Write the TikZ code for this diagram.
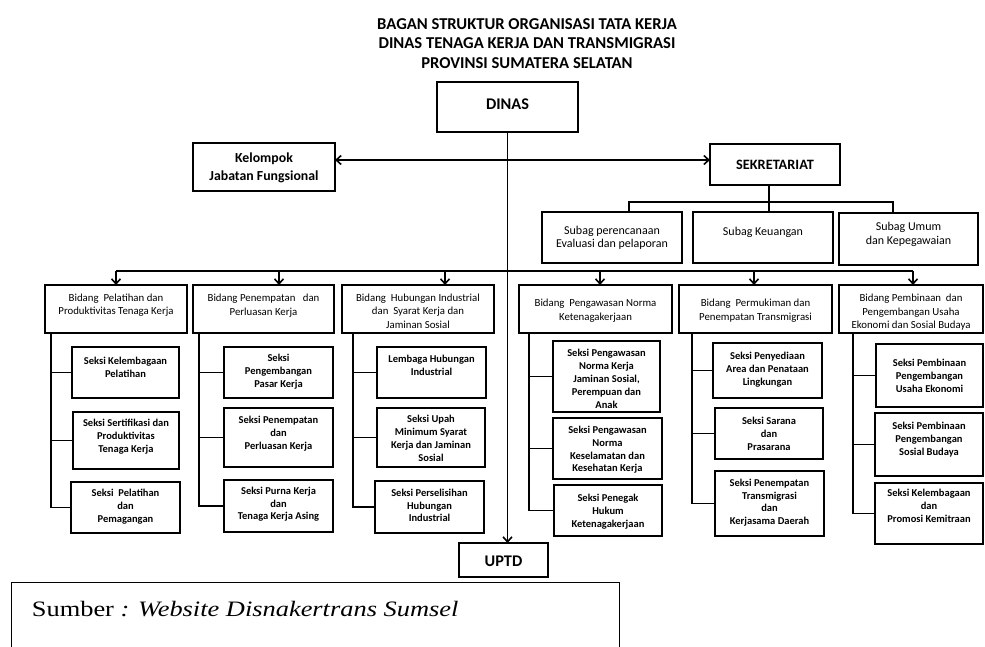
\documentclass[tikz,border=0pt]{standalone}
\usepackage{fontspec}
\usepackage{graphicx}
\setmainfont{Carlito}
\newfontfamily\tnr{Liberation Serif}
\usetikzlibrary{arrows.meta,calc}
\tikzset{
  bx/.style={draw, line width=2.2pt, inner sep=0pt, outer sep=0pt},
  ln/.style={line width=1.6pt},
  arr/.style={line width=1.6pt, -{Straight Barb[length=5pt,width=9pt]}},
  cb/.style={}, cbtxt/.style={font=\fontsize{10.5}{12.8}\selectfont\bfseries, align=center, inner sep=0pt},
  bd/.style={}, bdtxt/.style={font=\fontsize{10.8}{13.6}\selectfont, align=center, inner sep=0pt},
  sb/.style={}, sbtxt/.style={font=\fontsize{12}{13.3}\selectfont, align=center, inner sep=0pt},
  kl/.style={}, kltxt/.style={font=\fontsize{13.8}{18}\selectfont\bfseries, align=center, inner sep=0pt},
  hd/.style={}, hdtxt/.style={font=\fontsize{16.3}{18}\selectfont\bfseries, align=center, inner sep=0pt},
  sk/.style={}, sktxt/.style={font=\fontsize{14.3}{17}\selectfont\bfseries, align=center, inner sep=0pt},
}
% name, x1, y1, x2, y2, style, first-line offset, text
\newcommand\obox[8]{%
  \node[bx,#6,anchor=north west,minimum width={(#4-#2)*1pt},minimum height={(#5-#3)*1pt}] (#1) at (#2,#3) {};
  \node[#6txt,anchor=north] (#1t) at ({(#2+#4)/2},{#3+#7-4}) {#8};
}
% bidang, dx, c1, c2, c3
\newcommand\spine[5]{%
  \coordinate (#1s) at ($(#1.south west)+(#2,0)$);
  \draw[ln] (#1s) |- (#5.west);
  \draw[ln] (#1s |- #3.west) -- (#3.west);
  \draw[ln] (#1s |- #4.west) -- (#4.west);
}
\begin{document}
\begin{tikzpicture}[x=1pt,y=-1pt]
\useasboundingbox (0,0) rectangle (985,647);

\node[font=\fontsize{16.6}{19.7}\selectfont\bfseries, align=center, anchor=north, inner sep=0pt] (title) at (527,18)
  {BAGAN STRUKTUR ORGANISASI TATA KERJA\\DINAS TENAGA KERJA DAN TRANSMIGRASI\\PROVINSI SUMATERA SELATAN};

\obox{dinas}{437}{82}{578}{132}{hd}{21}{DINAS}
\obox{kel}{193}{143}{335}{191}{kl}{13.6}{Kelompok\\Jabatan Fungsional}
\obox{sek}{710}{144}{840}{185}{sk}{20.4}{SEKRETARIAT}
\obox{sub1}{542}{212}{682}{263}{sb}{17.6}{Subag perencanaan\\Evaluasi dan pelaporan}
\obox{sub2}{693}{212}{833}{263}{sb}{19.3}{Subag Keuangan}
\obox{sub3}{839}{213}{978}{265}{sb}{13.3}{Subag Umum\\dan Kepegawaian}

\obox{b1}{45}{285}{187}{333}{bd}{12.7}{Bidang \ Pelatihan dan\\Produktivitas Tenaga Kerja}
\obox{b2}{193}{285}{334}{333}{bd}{13}{Bidang Penempatan \ \ dan\\Perluasan Kerja}
\obox{b3}{342}{285}{494}{333}{bd}{12.7}{Bidang \ Hubungan Industrial\\dan \ Syarat Kerja dan\\Jaminan Sosial}
\obox{b4}{519}{285}{672}{333}{bd}{18}{Bidang \ Pengawasan Norma\\Ketenagakerjaan}
\obox{b5}{679}{285}{832}{333}{bd}{18}{Bidang \ Permukiman dan\\Penempatan Transmigrasi}
\obox{b6}{839}{285}{983}{333}{bd}{13}{Bidang Pembinaan \ dan\\Pengembangan Usaha\\Ekonomi dan Sosial Budaya}

\obox{b1c1}{72}{347}{179}{398}{cb}{13.7}{Seksi Kelembagaan\\Pelatihan}
\obox{b1c2}{73}{412}{179}{469}{cb}{11.3}{Seksi Sertifikasi dan\\Produktivitas\\Tenaga Kerja}
\obox{b1c3}{71}{482}{180}{533}{cb}{11.3}{Seksi \ Pelatihan\\dan\\Pemagangan}
\obox{b2c1}{224}{347}{333}{398}{cb}{11.3}{Seksi\\Pengembangan\\Pasar Kerja}
\obox{b2c2}{224}{408}{333}{467}{cb}{12}{Seksi Penempatan\\dan\\Perluasan Kerja}
\obox{b2c3}{224}{480}{333}{532}{cb}{10.7}{Seksi Purna Kerja\\dan\\Tenaga Kerja Asing}
\obox{b3c1}{377}{347}{486}{398}{cb}{12.3}{Lembaga Hubungan\\Industrial}
\obox{b3c2}{377}{408}{485}{467}{cb}{11.3}{Seksi Upah\\Minimum Syarat\\Kerja dan Jaminan\\Sosial}
\obox{b3c3}{375}{481}{484}{533}{cb}{11.7}{Seksi Perselisihan\\Hubungan\\Industrial}
\obox{b4c1}{553}{341}{660}{412}{cb}{12.3}{Seksi Pengawasan\\Norma Kerja\\Jaminan Sosial,\\Perempuan dan\\Anak}
\obox{b4c2}{553}{418}{662}{479}{cb}{12}{Seksi Pengawasan\\Norma\\Keselamatan dan\\Kesehatan Kerja}
\obox{b4c3}{554}{485}{662}{536}{cb}{13.3}{Seksi Penegak\\Hukum\\Ketenagakerjaan}
\obox{b5c1}{713}{343}{822}{398}{cb}{13}{Seksi Penyediaan\\Area dan Penataan\\Lingkungan}
\obox{b5c2}{715}{408}{823}{459}{cb}{13}{Seksi Sarana\\dan\\Prasarana}
\obox{b5c3}{715}{471}{824}{536}{cb}{11.7}{Seksi Penempatan\\Transmigrasi\\dan\\Kerjasama Daerah}
\obox{b6c1}{876}{344}{983}{407}{cb}{19.3}{Seksi Pembinaan\\Pengembangan\\Usaha Ekonomi}
\obox{b6c2}{875}{413}{983}{476}{cb}{13}{Seksi Pembinaan\\Pengembangan\\Sosial Budaya}
\obox{b6c3}{875}{483}{983}{544}{cb}{10.3}{Seksi Kelembagaan\\dan\\Promosi Kemitraan}

\obox{uptd}{459}{543}{548}{577}{hd}{17}{UPTD}

% DINAS connectors
\draw[arr] (dinas.south) -- (dinas.south |- uptd.north);
\coordinate (hj) at (dinas.south |- 0,160);
\draw[arr] (hj) -- (hj -| kel.east);
\draw[arr] (hj) -- (hj -| sek.west);

% Sekretariat to subag
\coordinate (sj) at (769,202);
\draw[ln] (sj |- sek.south) -- (sj) -- (sj |- sub2.north);
\coordinate (d1) at ($(sj -| sub1.north)+(17,0)$);
\coordinate (d3) at ($(sj -| sub3.north)+(-15.5,0)$);
\draw[ln] (d1 |- sub1.north) -- (d1) -- (d3) -- (d3 |- sub3.north);

% bar to bidang
\coordinate (bar) at (dinas.south |- 0,271);
\coordinate (a1) at (b1.north |- bar);
\coordinate (a2) at ($(b2.north |- bar)+(15.5,0)$);
\coordinate (a3) at ($(b3.north |- bar)+(27,0)$);
\coordinate (a4) at ($(b4.north |- bar)+(4.5,0)$);
\coordinate (a5) at ($(b5.north |- bar)+(-1.5,0)$);
\coordinate (a6) at ($(b6.north |- bar)+(2,0)$);
\draw[ln] (a1) -- (a6);
\foreach \i in {1,...,6} {\draw[arr] (a\i) -- (a\i |- b\i.north);}

% spines
\spine{b1}{6}{b1c1}{b1c2}{b1c3}
\spine{b2}{6}{b2c1}{b2c2}{b2c3}
\spine{b3}{11}{b3c1}{b3c2}{b3c3}
\spine{b4}{10}{b4c1}{b4c2}{b4c3}
\spine{b5}{13}{b5c1}{b5c2}{b5c3}
\spine{b6}{14}{b6c1}{b6c2}{b6c3}

% source box
\node[draw, line width=0.8pt, anchor=north west, minimum width=608pt, minimum height=90pt, inner sep=0pt] (src) at (11,582) {};
\node[anchor=base west, inner sep=0pt, font=\tnr\fontsize{22}{26}\selectfont] (srct) at (31.7,616.7)
  {\scalebox{1.2}[1]{Sumber \textit{: Website Disnakertrans Sumsel}}};
\end{tikzpicture}
\end{document}
